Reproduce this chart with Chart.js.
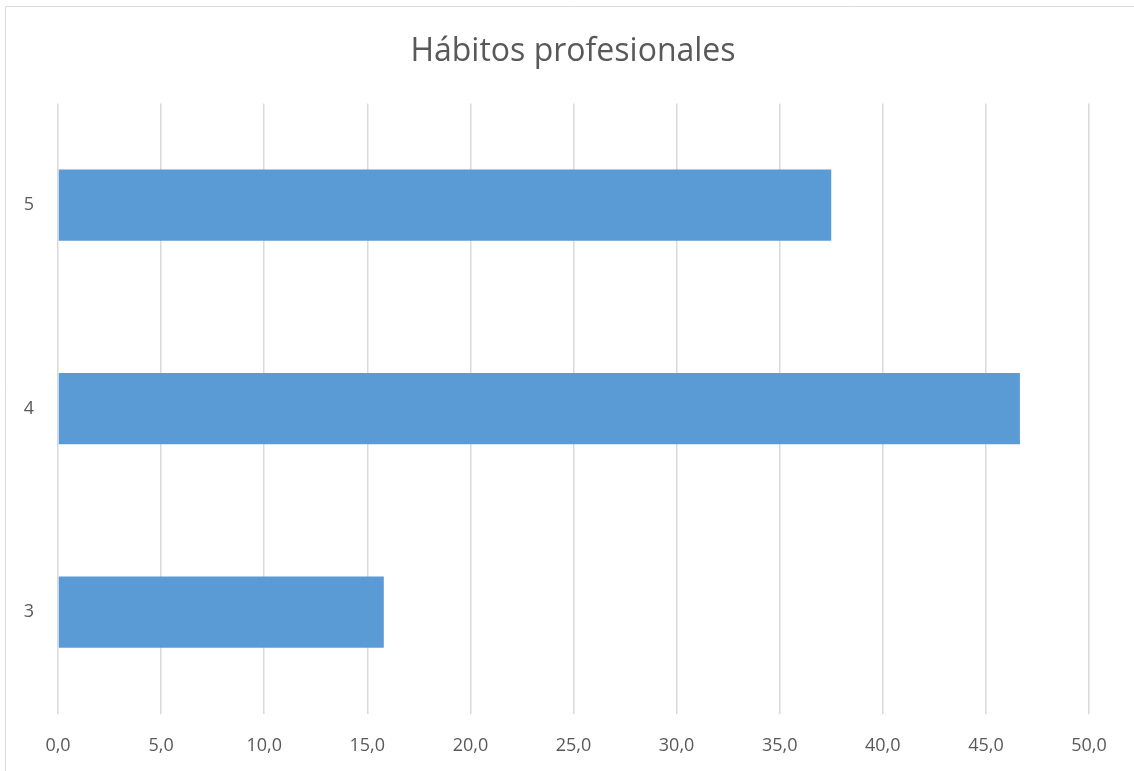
<!DOCTYPE html>
<html>
<head>
<meta charset="utf-8">
<script src="https://cdn.jsdelivr.net/npm/chart.js@4"></script>
<style>
html,body{margin:0;padding:0;background:#fff;}
#wrap{width:1134px;height:771px;position:relative;}
</style>
</head>
<body>
<div id="wrap"><canvas id="c" width="1134" height="771"></canvas></div>
<script>
const titleText = 'Hábitos profesionales';
const categories = ['5', '4', '3'];
const values = [37.5, 46.65, 15.8];
const xMin = 0, xMax = 50, xStep = 5;

const frame = {
  id: 'frame',
  beforeDraw(chart) {
    const ctx = chart.ctx;
    ctx.save();
    ctx.fillStyle = '#ffffff';
    ctx.fillRect(0, 0, chart.width, chart.height);
    ctx.strokeStyle = '#d9d9d9';
    ctx.lineWidth = 1;
    ctx.beginPath();
    ctx.moveTo(5.5, chart.height + 2);
    ctx.lineTo(5.5, 6.5);
    ctx.lineTo(chart.width + 2, 6.5);
    ctx.stroke();
    ctx.restore();
  }
};

new Chart(document.getElementById('c'), {
  type: 'bar',
  data: {
    labels: categories,
    datasets: [{
      data: values,
      backgroundColor: '#5b9bd5',
      borderWidth: 0,
      barPercentage: 0.35,
      categoryPercentage: 1.0
    }]
  },
  options: {
    indexAxis: 'y',
    responsive: false,
    animation: false,
    devicePixelRatio: 1,
    layout: { padding: { top: 0, left: 12, right: 0, bottom: 0 } },
    plugins: {
      legend: { display: false },
      tooltip: { enabled: false },
      title: {
        display: true,
        text: titleText,
        color: '#595959',
        font: { family: 'Open Sans', size: 32, weight: 'normal' },
        padding: { top: 33, bottom: 32 }
      }
    },
    scales: {
      x: {
        min: xMin, max: xMax,
        ticks: {
          stepSize: xStep,
          color: '#595959',
          font: { family: 'Open Sans', size: 18 },
          padding: 21,
          callback: v => v.toFixed(1).replace('.', ',')
        },
        grid: { color: '#d9d9d9', lineWidth: 1.5, drawTicks: false },
        border: { display: false },
        afterFit(s) { s.height = 771 - 714; s.paddingRight = 45; }
      },
      y: {
        ticks: {
          color: '#595959',
          font: { family: 'Open Sans', size: 18 },
          padding: 24
        },
        grid: { display: false, drawTicks: false },
        border: { display: false },
        afterFit(s) { s.width = 46; }
      }
    }
  },
  plugins: [frame]
});
</script>
</body>
</html>
